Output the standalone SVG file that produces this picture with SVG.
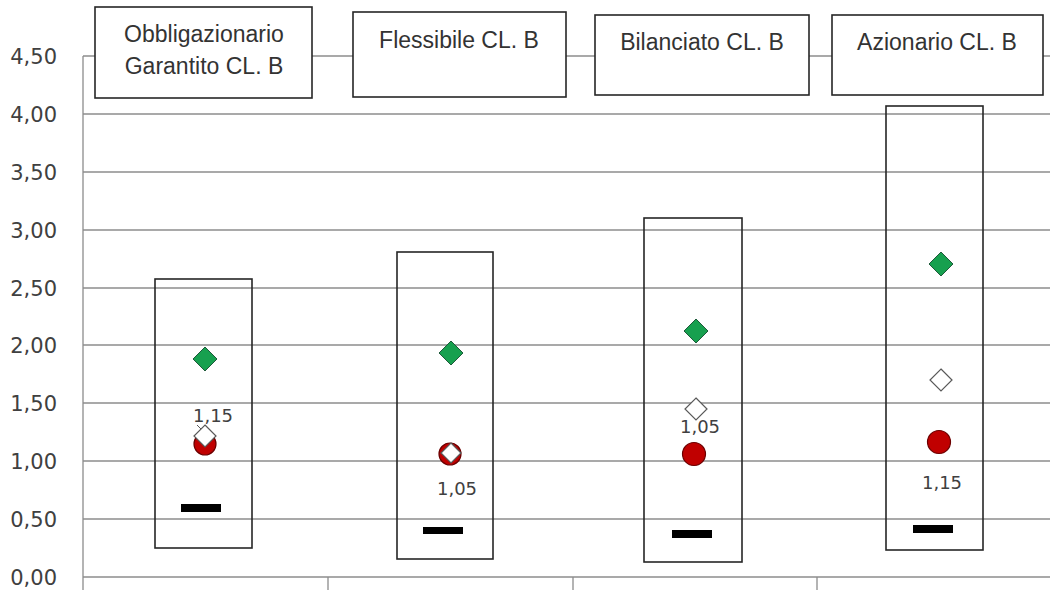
<svg xmlns="http://www.w3.org/2000/svg" width="1050" height="590" viewBox="0 0 1050 590">
<style>
.grid{stroke:#8c8c8c;stroke-width:1.3;fill:none}
.ax{font-family:"DejaVu Sans",sans-serif;font-size:21px;fill:#404040;text-anchor:end}
.cat{fill:#fff;stroke:#262626;stroke-width:1.6}
.cl{font-family:"Liberation Sans",Arial,sans-serif;font-size:23px;fill:#333;text-anchor:middle}
.rng{fill:none;stroke:#262626;stroke-width:1.6}
.dash{fill:#000}
.gd{fill:#17a04f;stroke:#1e5a3a;stroke-width:1}
.wd{fill:#fff;stroke:#595959;stroke-width:1.2}
.rc{fill:#c00000;stroke:#6b0000;stroke-width:1.2}
.lbl{font-family:"DejaVu Sans",sans-serif;font-size:18px;fill:#404040;text-anchor:middle}
</style>
<rect width="1050" height="590" fill="#fff"/>
<g id="axes">
<line class="grid" x1="83" y1="56" x2="1050" y2="56"/>
<line class="grid" x1="83" y1="114" x2="1050" y2="114"/>
<line class="grid" x1="83" y1="172" x2="1050" y2="172"/>
<line class="grid" x1="83" y1="230" x2="1050" y2="230"/>
<line class="grid" x1="83" y1="288" x2="1050" y2="288"/>
<line class="grid" x1="83" y1="345" x2="1050" y2="345"/>
<line class="grid" x1="83" y1="403" x2="1050" y2="403"/>
<line class="grid" x1="83" y1="461" x2="1050" y2="461"/>
<line class="grid" x1="83" y1="519" x2="1050" y2="519"/>
<line class="grid" x1="83" y1="577" x2="1050" y2="577"/>
<line class="grid" x1="83" y1="56" x2="83" y2="590"/>
<line class="grid" x1="328" y1="577" x2="328" y2="590"/>
<line class="grid" x1="573" y1="577" x2="573" y2="590"/>
<line class="grid" x1="817" y1="577" x2="817" y2="590"/>
<text class="ax" x="57" y="64">4,50</text>
<text class="ax" x="57" y="122">4,00</text>
<text class="ax" x="57" y="180">3,50</text>
<text class="ax" x="57" y="238">3,00</text>
<text class="ax" x="57" y="296">2,50</text>
<text class="ax" x="57" y="353">2,00</text>
<text class="ax" x="57" y="411">1,50</text>
<text class="ax" x="57" y="469">1,00</text>
<text class="ax" x="57" y="527">0,50</text>
<text class="ax" x="57" y="585">0,00</text>
</g>
<g id="connectors">
<line x1="197" y1="425" x2="203" y2="431" stroke="#595959" stroke-width="1"/>
</g>
<g id="cat1">
<rect class="cat" x="95" y="7" width="217" height="91"/>
<text class="cl" x="204" y="42">Obbligazionario</text>
<text class="cl" x="204" y="74">Garantito CL. B</text>
<rect class="rng" x="155" y="279" width="97" height="269"/>
<rect class="dash" x="181" y="504" width="40" height="8"/>
<path class="gd" d="M205 347 L217 359 L205 371 L193 359 Z"/>
<circle class="rc" cx="205" cy="444" r="11"/>
<path class="wd" d="M205 425 L216 436 L205 447 L194 436 Z"/>
<text class="lbl" x="213" y="422">1,15</text>
</g>
<g id="cat2">
<rect class="cat" x="353" y="12" width="213" height="85"/>
<text class="cl" x="459" y="48">Flessibile CL. B</text>
<rect class="rng" x="397" y="252" width="96" height="307"/>
<rect class="dash" x="423" y="527" width="40" height="7"/>
<path class="gd" d="M451 341 L463 353 L451 365 L439 353 Z"/>
<circle class="rc" cx="450" cy="454" r="11"/>
<path class="wd" d="M451 443 L461 453 L451 463 L441 453 Z"/>
<text class="lbl" x="457" y="495">1,05</text>
</g>
<g id="cat3">
<rect class="cat" x="595" y="15" width="214" height="80"/>
<text class="cl" x="702" y="50">Bilanciato CL. B</text>
<rect class="rng" x="644" y="218" width="98" height="344"/>
<rect class="dash" x="672" y="530" width="40" height="8"/>
<path class="gd" d="M696 319 L708 331 L696 343 L684 331 Z"/>
<path class="wd" d="M696 398 L707 409 L696 420 L685 409 Z"/>
<circle class="rc" cx="694" cy="454" r="11.5"/>
<text class="lbl" x="700" y="433">1,05</text>
</g>
<g id="cat4">
<rect class="cat" x="832" y="15" width="211" height="80"/>
<text class="cl" x="937" y="50">Azionario CL. B</text>
<rect class="rng" x="886" y="106" width="97" height="444"/>
<rect class="dash" x="913" y="525" width="40" height="8"/>
<path class="gd" d="M941 252 L953 264 L941 276 L929 264 Z"/>
<path class="wd" d="M941 369 L952 380 L941 391 L930 380 Z"/>
<circle class="rc" cx="939" cy="442" r="11.5"/>
<text class="lbl" x="942" y="489">1,15</text>
</g>
</svg>
